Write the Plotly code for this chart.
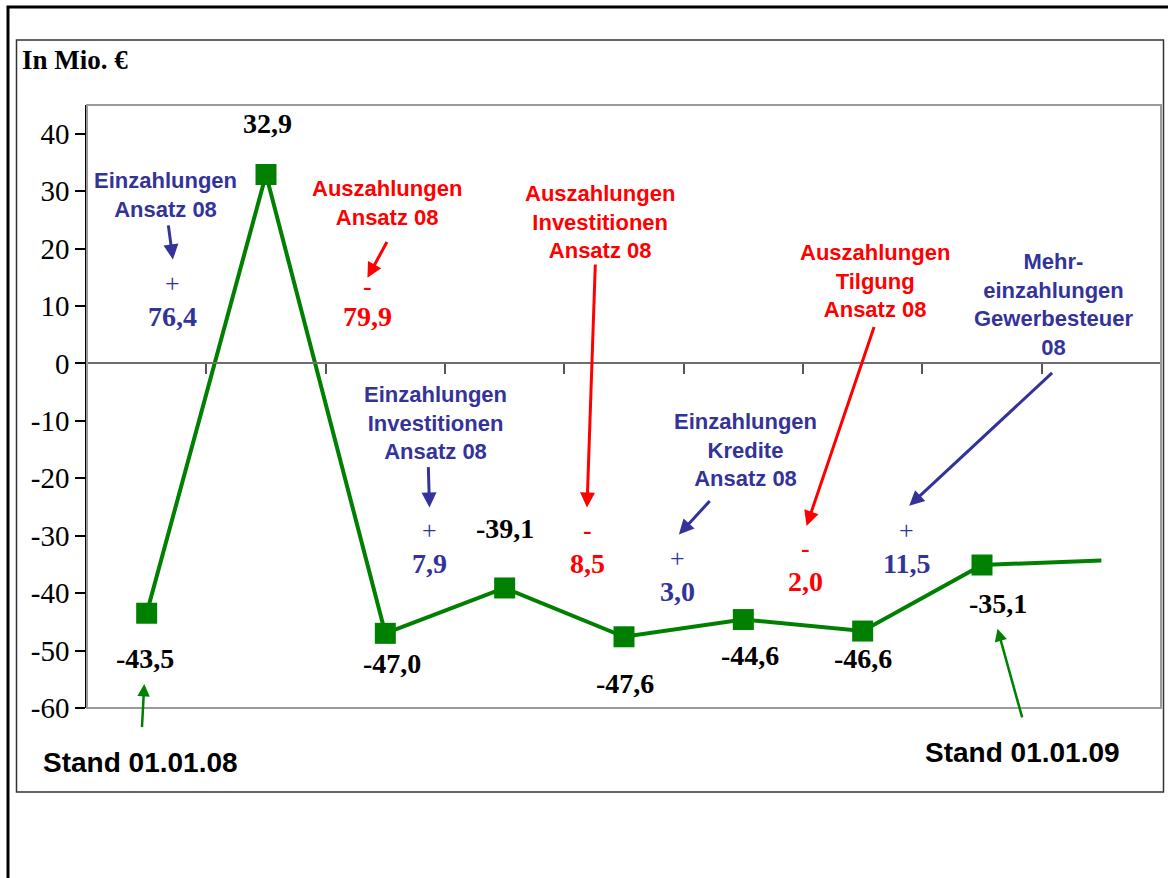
import plotly.graph_objects as go

# Liquiditätsstand (Mio. €) entlang der Stufen der Entwicklung 2008
steps = list(range(9))
balance = [-43.5, 32.9, -47.0, -39.1, -47.6, -44.6, -46.6, -35.1, -34.3]
n_marked = 8  # the last step only carries the line onward

# Ein-/Auszahlungen zwischen den Stufen
flow_titles = [
    "Einzahlungen<br>Ansatz 08",
    "Auszahlungen<br>Ansatz 08",
    "Einzahlungen<br>Investitionen<br>Ansatz 08",
    "Auszahlungen<br>Investitionen<br>Ansatz 08",
    "Einzahlungen<br>Kredite<br>Ansatz 08",
    "Auszahlungen<br>Tilgung<br>Ansatz 08",
    "Mehr-<br>einzahlungen<br>Gewerbesteuer<br>08",
]
flow_signs = ["+", "-", "+", "-", "+", "-", "+"]
flow_amounts = [76.4, 79.9, 7.9, 8.5, 3.0, 2.0, 11.5]

y_ticks = list(range(-60, 41, 10))
start_label = "Stand 01.01.08"
end_label = "Stand 01.01.09"
unit_label = "In Mio. €"

BLUE = "#333399"
RED = "#FF0000"
GREEN = "#008000"
SERIF = "Liberation Serif, Times New Roman, serif"
SANS = "Liberation Sans, Arial, sans-serif"

# plot area geometry (pixels)
W, H = 1168, 878
L, T, PW, PH = 87, 105, 1074, 603
y_min, y_max = -60, 45


def fmt(v):
    return f"{v:.1f}".replace(".", ",")


def pxx(p):
    return (p - L) / PW


def pxy(p):
    return (T + PH - p) / PH


def data_to_paper_y(v):
    return (v - y_min) / (y_max - y_min)


def data_to_paper_x(v):
    return (v + 0.5) / 9


fig = go.Figure()
fig.add_trace(go.Scatter(
    x=steps, y=balance, mode="lines+markers",
    line=dict(color=GREEN, width=4),
    marker=dict(symbol="square", size=[21] * n_marked + [0], color=GREEN,
                opacity=1, line=dict(width=0)),
    opacity=1,
    hoverinfo="skip", showlegend=False, cliponaxis=False,
))

annotations = []

# value labels at each marked step (pixel offsets from the marker)
label_shift = [(-2, -45), (1, 51), (7, -30), (0, 59), (1, -47), (7, -36), (0, -27), (16, -38)]
for i in range(n_marked):
    dx, dy = label_shift[i]
    annotations.append(dict(
        x=steps[i], y=balance[i], xref="x", yref="y", text=f"<b>{fmt(balance[i])}</b>",
        showarrow=False, xshift=dx, yshift=dy, xanchor="center", yanchor="middle",
        font=dict(family=SERIF, size=28, color="black"),
    ))

# flow callouts: title centre, arrow tail, arrow head, amount position (data units)
flow_layout = [
    ((0.16, 29.4), (0.18, 24.3), (0.22, 18.1), (0.22, 8.1), 33),
    ((2.01, 27.9), (2.02, 21.4), (1.85, 14.9), (1.85, 8.1), 30),
    ((2.42, -10.4), (2.36, -17.8), (2.37, -25.1), (2.37, -34.9), 33),
    ((3.80, 24.7), (3.76, 17.5), (3.69, -25.1), (3.69, -34.9), 33),
    ((5.02, -15.0), (4.73, -23.7), (4.46, -29.8), (4.45, -39.8), 33),
    ((6.10, 14.4), (6.10, 6.6), (5.53, -28.3), (5.52, -38.0), 33),
    ((7.60, 10.2), (7.60, -1.4), (6.39, -24.8), (6.37, -34.9), 33),
]
for title, sign, amount, (t_xy, tail, head, a_xy, sgap) in zip(
        flow_titles, flow_signs, flow_amounts, flow_layout):
    color = BLUE if sign == "+" else RED
    annotations.append(dict(
        x=t_xy[0], y=t_xy[1], xref="x", yref="y", text=f"<b>{title}</b>",
        showarrow=False, align="center", xanchor="center", yanchor="middle",
        font=dict(family=SANS, size=22, color=color),
    ))
    annotations.append(dict(
        x=head[0], y=head[1], ax=tail[0], ay=tail[1], xref="x", yref="y",
        axref="x", ayref="y", text="", showarrow=True, arrowhead=2,
        arrowsize=1, arrowwidth=3, arrowcolor=color, standoff=0,
    ))
    sign_txt = "+" if sign == "+" else "<b>-</b>"
    annotations.append(dict(
        x=a_xy[0], y=a_xy[1], xref="x", yref="y", text=sign_txt, showarrow=False,
        yshift=sgap, xanchor="center", yanchor="middle",
        font=dict(family=SERIF, size=26, color=color),
    ))
    annotations.append(dict(
        x=a_xy[0], y=a_xy[1], xref="x", yref="y", text=f"<b>{fmt(amount)}</b>",
        showarrow=False, xanchor="center", yanchor="middle",
        font=dict(family=SERIF, size=28, color=color),
    ))

# start / end callouts; the labels sit below the plot area, so on the paper
for text, t_xy, tail, head in [
    (start_label, (-0.05, -69.5), (-0.04, -63.6), (-0.02, -55.8)),
    (end_label, (7.34, -67.8), (7.34, -61.9), (7.13, -46.2)),
]:
    annotations.append(dict(
        x=data_to_paper_x(t_xy[0]), y=data_to_paper_y(t_xy[1]),
        xref="paper", yref="paper", text=f"<b>{text}</b>",
        showarrow=False, xanchor="center", yanchor="middle",
        font=dict(family=SANS, size=28, color="black"),
    ))
    annotations.append(dict(
        x=head[0], y=head[1], ax=tail[0], ay=tail[1], xref="x", yref="y",
        axref="x", ayref="y", text="", showarrow=True, arrowhead=2,
        arrowsize=1, arrowwidth=2.5, arrowcolor=GREEN, standoff=0,
    ))

annotations.append(dict(
    x=pxx(20), y=pxy(60), xref="paper", yref="paper", text=f"<b>{unit_label}</b>",
    showarrow=False, xanchor="left", yanchor="middle",
    font=dict(family=SERIF, size=27, color="black"),
))

shapes = [
    # outer frame (top and left edges)
    dict(type="path", xref="paper", yref="paper",
         path=f"M {pxx(8)} {pxy(878)} L {pxx(8)} {pxy(7)} L {pxx(1168)} {pxy(7)}",
         line=dict(color="black", width=3)),
    # inner chart frame
    dict(type="rect", xref="paper", yref="paper",
         x0=pxx(16.5), x1=pxx(1163.5), y0=pxy(792), y1=pxy(40),
         line=dict(color="#333333", width=1.5)),
    # plot area border
    dict(type="rect", xref="paper", yref="paper", x0=0, x1=1, y0=0, y1=1,
         line=dict(color="#9a9a9a", width=2)),
]

fig.update_layout(
    width=W, height=H,
    margin=dict(l=L, r=W - L - PW, t=T, b=H - T - PH, pad=0),
    paper_bgcolor="white", plot_bgcolor="white",
    showlegend=False,
    annotations=annotations,
    shapes=shapes,
    xaxis=dict(
        range=[-0.5, 8.5], anchor="free", position=data_to_paper_y(0),
        showline=True, linecolor="#6e6e6e", linewidth=2,
        ticks="outside", ticklen=10, tickwidth=1.5, tickcolor="#555555",
        tickvals=[s + 0.5 for s in steps], showticklabels=False,
        showgrid=False, zeroline=False, fixedrange=True,
    ),
    yaxis=dict(
        range=[y_min, y_max], tickvals=y_ticks,
        ticktext=[str(v) for v in y_ticks],
        showline=True, linecolor="black", linewidth=1.5,
        ticks="outside", ticklen=10, tickwidth=1.5, tickcolor="black",
        tickfont=dict(family=SERIF, size=29, color="black"),
        showgrid=False, zeroline=False, fixedrange=True,
    ),
)

fig.write_html("out.html")
